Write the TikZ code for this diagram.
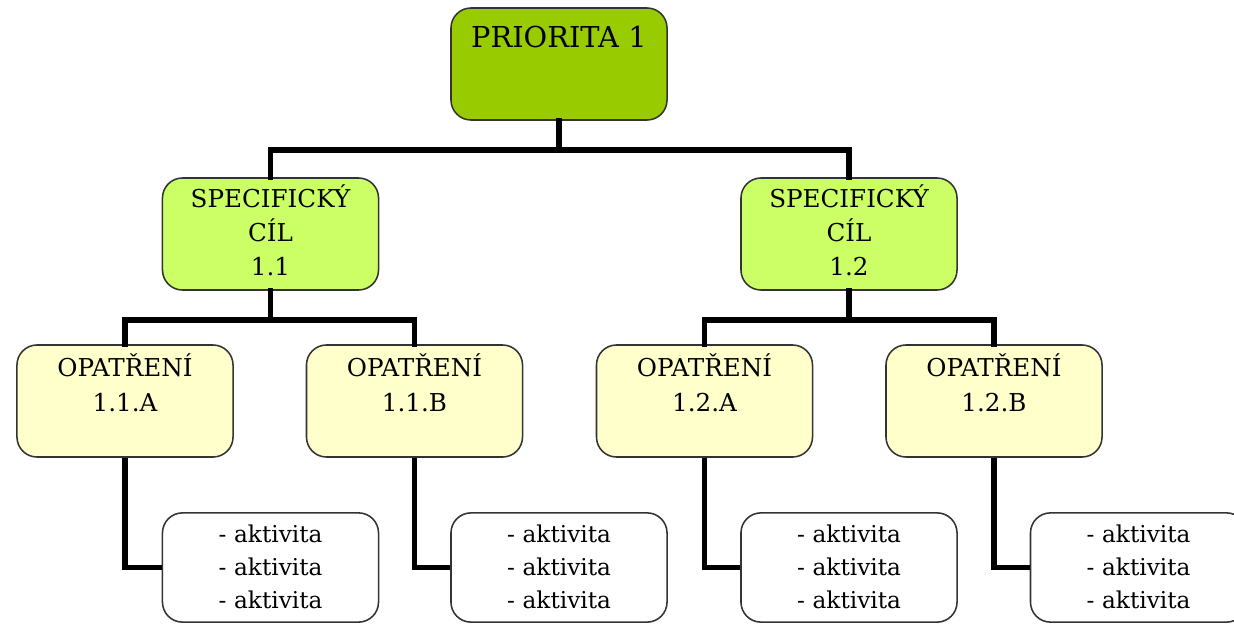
\documentclass[tikz,border=0pt]{standalone}
\usepackage{fontspec}
\setmainfont{DejaVu Serif}
\usetikzlibrary{positioning}
\definecolor{prioritygreen}{HTML}{99CC00}
\definecolor{goalgreen}{HTML}{CCFF66}
\definecolor{measureyellow}{HTML}{FFFFCC}
\definecolor{boxborder}{HTML}{333333}
\tikzset{
	box/.style={draw=boxborder, line width=1.1pt, rounded corners=0.5cm, inner xsep=0pt, inner ysep=0pt, text width=5.4cm, align=center},
	prioritybox/.style={box, fill=prioritygreen, font=\fontsize{20.5}{26}\selectfont, text height=1.0cm, text depth=1.8cm},
	goalbox/.style={box, fill=goalgreen, font=\fontsize{17.5}{24.1}\selectfont, text height=0.75cm, text depth=2.05cm},
	measurebox/.style={box, fill=measureyellow, font=\fontsize{17.5}{25.3}\selectfont, text height=0.78cm, text depth=2.02cm},
	actbox/.style={box, fill=white, font=\fontsize{16.5}{23.2}\selectfont, text height=0.75cm, text depth=1.98cm},
	link/.style={line width=3.6pt, line cap=rect}
}
\begin{document}
\begin{tikzpicture}[x=0.025cm, y=-0.025cm]
			%%%%% START %%%%%
			\useasboundingbox (0, 0) rectangle (1234, 624);
			\clip (0, 0) rectangle (1234, 624);
			
			\node[prioritybox] (prio) at (559, 64) {PRIORITA 1};
			
			\node[goalbox] (goal1) at (270.5, 234) {SPECIFICKÝ\\CÍL\\1.1};
			\node[goalbox] (goal2) at (849, 234) {SPECIFICKÝ\\CÍL\\1.2};
			
			\node[measurebox] (m11a) at (125, 401) {OPATŘENÍ\\1.1.A};
			\node[measurebox] (m11b) at (414.5, 401) {OPATŘENÍ\\1.1.B};
			\node[measurebox] (m12a) at (704.5, 401) {OPATŘENÍ\\1.2.A};
			\node[measurebox] (m12b) at (994, 401) {OPATŘENÍ\\1.2.B};
			
			\node[actbox] (act11a) at (270.5, 567.5) {- aktivita\\- aktivita\\- aktivita};
			\node[actbox] (act11b) at (559, 567.5) {- aktivita\\- aktivita\\- aktivita};
			\node[actbox] (act12a) at (849, 567.5) {- aktivita\\- aktivita\\- aktivita};
			\node[actbox] (act12b) at (1138.5, 567.5) {- aktivita\\- aktivita\\- aktivita};
			
			% tree links
			\coordinate (prioknee) at (559, 150);
			\draw[link] (prio.south) -- (prioknee);
			\draw[link] (goal1.north) |- (prioknee) -| (goal2.north);
			
			\coordinate (goal1knee) at (270.5, 320);
			\coordinate (goal2knee) at (849, 320);
			\draw[link] (goal1.south) -- (goal1knee);
			\draw[link] (m11a.north) |- (goal1knee) -| (m11b.north);
			\draw[link] (goal2.south) -- (goal2knee);
			\draw[link] (m12a.north) |- (goal2knee) -| (m12b.north);
			
			\foreach \m/\a in {m11a/act11a, m11b/act11b, m12a/act12a, m12b/act12b}
				\draw[link, line cap=butt] (\m.south) |- (\a.west);
			%%%%% END %%%%%
\end{tikzpicture}
\end{document}
